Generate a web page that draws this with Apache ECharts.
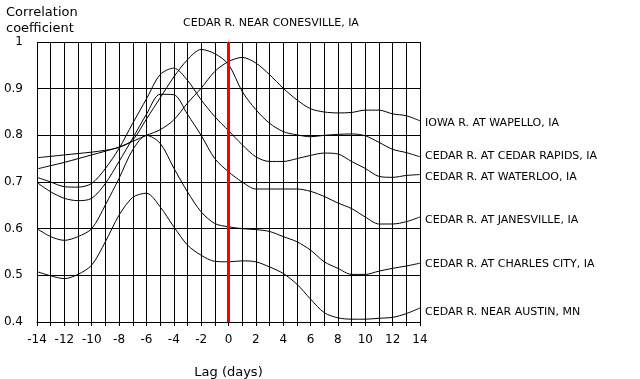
<!DOCTYPE html>
<html>
<head>
<meta charset="utf-8">
<script src="https://cdn.jsdelivr.net/npm/echarts@6/dist/echarts.min.js"></script>
<style>html,body{margin:0;padding:0;background:#fff}#c{width:640px;height:379px}</style>
</head>
<body>
<div id="c"></div>
<script>
var lags = [-14,-13,-12,-11,-10,-9,-8,-7,-6,-5,-4,-3,-2,-1,0,1,2,3,4,5,6,7,8,9,10,11,12,13,14];
var yTicks = [0.4,0.5,0.6,0.7,0.8,0.9,1];
var seriesNames = ['IOWA R. AT WAPELLO, IA','CEDAR R. AT CEDAR RAPIDS, IA','CEDAR R. AT WATERLOO, IA','CEDAR R. AT JANESVILLE, IA','CEDAR R. AT CHARLES CITY, IA','CEDAR R. NEAR AUSTIN, MN'];
var wapello     = [0.728,0.735,0.742,0.750,0.758,0.766,0.775,0.787,0.800,0.812,0.833,0.869,0.901,0.937,0.958,0.967,0.955,0.930,0.901,0.876,0.857,0.850,0.848,0.849,0.854,0.854,0.846,0.842,0.831];
var cedarRapids = [0.752,0.755,0.758,0.761,0.764,0.768,0.774,0.790,0.835,0.880,0.925,0.962,0.984,0.975,0.952,0.894,0.855,0.826,0.808,0.801,0.797,0.800,0.802,0.803,0.799,0.785,0.770,0.763,0.754];
var waterloo    = [0.710,0.700,0.690,0.689,0.697,0.729,0.772,0.826,0.878,0.930,0.944,0.918,0.876,0.840,0.810,0.780,0.754,0.744,0.744,0.750,0.757,0.762,0.760,0.744,0.729,0.712,0.710,0.714,0.716];
var janesville  = [0.699,0.679,0.665,0.660,0.665,0.697,0.744,0.794,0.845,0.888,0.887,0.845,0.800,0.750,0.722,0.700,0.685,0.685,0.685,0.685,0.680,0.669,0.655,0.643,0.625,0.610,0.610,0.615,0.625];
var charlesCity = [0.600,0.583,0.575,0.583,0.600,0.651,0.708,0.769,0.800,0.783,0.730,0.679,0.636,0.611,0.604,0.600,0.598,0.594,0.583,0.572,0.554,0.529,0.515,0.502,0.502,0.509,0.515,0.520,0.526];
var austin      = [0.508,0.499,0.493,0.502,0.522,0.572,0.629,0.667,0.676,0.647,0.604,0.565,0.543,0.530,0.529,0.531,0.529,0.518,0.504,0.481,0.449,0.420,0.409,0.406,0.406,0.408,0.410,0.418,0.430];
var seriesData = [wapello, cedarRapids, waterloo, janesville, charlesCity, austin];
var labelOffsets = [[0, 2], [0, -1], [0, 3], [0, 3], [0, 1], [0, 4]];
var zeroLag = 0;

var FONT = 'DejaVu Sans';
var chart = echarts.init(document.getElementById('c'), null, {renderer: 'canvas'});
var series = seriesData.map(function (d, i) {
  return {
    name: seriesNames[i],
    type: 'line',
    data: lags.map(function (x, j) { return [x, d[j]]; }),
    smooth: 0.3,
    symbol: 'none',
    lineStyle: {color: '#000', width: 1},
    endLabel: {show: true, formatter: '{a}', color: '#000', fontFamily: FONT, fontSize: 11, distance: 5, offset: labelOffsets[i]},
    animation: false,
    z: 3
  };
});
series.push({
  type: 'line',
  data: [],
  markLine: {
    silent: true,
    symbol: ['none', 'none'],
    label: {show: false},
    lineStyle: {color: '#ff0000', width: 3, type: 'solid'},
    data: [{xAxis: zeroLag}],
    animation: false
  },
  z: 5
});

chart.setOption({
  animation: false,
  backgroundColor: '#fff',
  title: [
    {text: 'CEDAR R. NEAR CONESVILLE, IA', left: 178, top: 13, textStyle: {fontFamily: FONT, fontSize: 11, fontWeight: 'normal', color: '#000'}},
    {text: 'Correlation\ncoefficient', left: 1, top: 0, textStyle: {fontFamily: FONT, fontSize: 13, fontWeight: 'normal', color: '#000', lineHeight: 16}}
  ],
  grid: {left: 37, right: 220, top: 42, bottom: 57, containLabel: false, outerBoundsMode: 'none'},
  xAxis: {
    type: 'value', min: -14, max: 14, interval: 1,
    name: 'Lag (days)', nameLocation: 'middle', nameGap: 44,
    nameTextStyle: {fontFamily: FONT, fontSize: 13, color: '#000'},
    axisLine: {lineStyle: {color: '#000', width: 1}},
    axisTick: {show: true, length: 4, lineStyle: {color: '#000'}},
    splitLine: {show: true, lineStyle: {color: '#000', width: 1}},
    axisLabel: {
      fontFamily: FONT, fontSize: 12, color: '#000', margin: 12,
      formatter: function (v) { return (Math.round(v) % 2 === 0) ? String(Math.round(v)) : ''; }
    }
  },
  yAxis: {
    type: 'value', min: yTicks[0], max: yTicks[yTicks.length - 1], interval: 0.1,
    axisLine: {show: true, lineStyle: {color: '#000', width: 1}},
    axisTick: {show: false},
    splitLine: {show: true, lineStyle: {color: '#000', width: 1}},
    axisLabel: {
      fontFamily: FONT, fontSize: 12, color: '#000', margin: 14,
      formatter: function (v) { return String(Math.round(v * 10) / 10); }
    }
  },
  series: series
});
</script>
</body>
</html>
